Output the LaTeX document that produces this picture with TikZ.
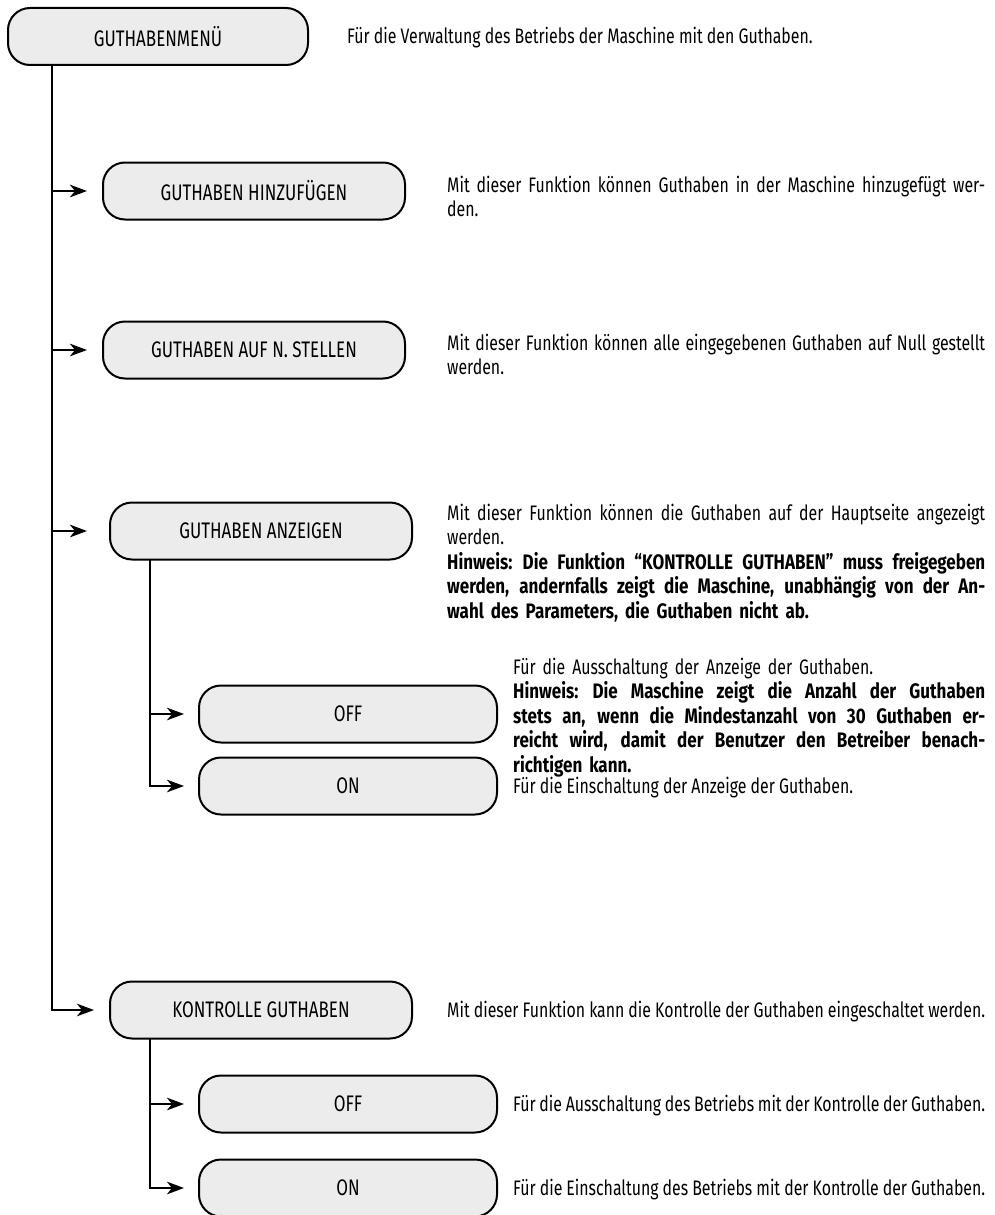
\documentclass[tikz,border=0pt]{standalone}
\usepackage{fontspec}
\setmainfont{Fira Sans}[FakeStretch=0.755,BoldFeatures={FakeStretch=0.81}]
\usetikzlibrary{arrows.meta}
\definecolor{boxgray}{HTML}{ECECEC}
\newcommand\fullline[2]{\makebox[#1][s]{\spaceskip=0.25em plus 1em minus 0.12em\xspaceskip=0.3em plus 1em minus 0.12em\relax #2}}
\begin{document}
\begin{tikzpicture}[x=1pt,y=-1pt,
  menubox/.style={draw=black, line width=2pt, fill=boxgray, rounded corners=22pt,
    minimum height=57pt, inner sep=0pt, font=\fontsize{22.5}{24}\selectfont},
  desc/.style={anchor=base west, inner sep=0pt, align=left, font=\fontsize{21}{24.5}\selectfont},
  conn/.style={line width=2.5pt},
  arr/.style={conn, -{Stealth[length=17pt,width=12.5pt,inset=5pt]}}
]
\useasboundingbox (0,0) rectangle (995,1215);

% boxes
\node[menubox, minimum width=300pt] (menu) at (158,36.5) {GUTHABENMENÜ};
\node[menubox, minimum width=302pt] (hinz) at (254,191) {GUTHABEN HINZUFÜGEN};
\node[menubox, minimum width=302pt] (null) at (254,350) {GUTHABEN AUF N. STELLEN};
\node[menubox, minimum width=302pt] (anz) at (261,531) {GUTHABEN ANZEIGEN};
\node[menubox, minimum width=298pt] (off1) at (348,714) {OFF};
\node[menubox, minimum width=298pt] (on1) at (348,786) {ON};
\node[menubox, minimum width=302pt] (kont) at (261,1010) {KONTROLLE GUTHABEN};
\node[menubox, minimum width=298pt] (off2) at (348,1104) {OFF};
\node[menubox, minimum width=298pt] (on2) at (348,1188) {ON};

% connectors
\coordinate (t0) at (52,65);
\draw[arr] (t0) |- ([xshift=-15pt]kont.west);
\draw[arr] (t0 |- hinz.west) -- ([xshift=-15pt]hinz.west);
\draw[arr] (t0 |- null.west) -- ([xshift=-15pt]null.west);
\draw[arr] (t0 |- anz.west) -- ([xshift=-22pt]anz.west);

\coordinate (s1) at (150,560);
\draw[arr] (s1) |- ([xshift=-14pt]on1.west);
\draw[arr] (s1 |- off1.west) -- ([xshift=-14pt]off1.west);

\coordinate (s2) at (150,1039);
\draw[arr] (s2) |- ([xshift=-14pt]on2.west);
\draw[arr] (s2 |- off2.west) -- ([xshift=-14pt]off2.west);

% descriptions
\node[desc] (d0) at (347,44) {Für die Verwaltung des Betriebs der Maschine mit den Guthaben.};

\node[desc, text width=538pt] (d1) at (447,192)
  {\fullline{538pt}{Mit dieser Funktion können Guthaben in der Maschine hinzugefügt wer-}\\den.};

\node[desc, text width=538pt] (d2) at (447,350)
  {\fullline{538pt}{Mit dieser Funktion können alle eingegebenen Guthaben auf Null gestellt}\\werden.};

\node[desc, text width=538pt] (d3) at (447,520)
  {\fullline{538pt}{Mit dieser Funktion können die Guthaben auf der Hauptseite angezeigt}\\
   werden.\\
   \fullline{538pt}{\bfseries Hinweis: Die Funktion “KONTROLLE GUTHABEN” muss freigegeben}\\
   \fullline{538pt}{\bfseries werden, andernfalls zeigt die Maschine, unabhängig von der An-}\\
   \textbf{wahl des Parameters, die Guthaben nicht ab.}};

\node[desc, text width=472pt] (d4) at (513,674)
  {Für die Ausschaltung der Anzeige der Guthaben.\\
   \fullline{472pt}{\bfseries Hinweis: Die Maschine zeigt die Anzahl der Guthaben}\\
   \fullline{472pt}{\bfseries stets an, wenn die Mindestanzahl von 30 Guthaben er-}\\
   \fullline{472pt}{\bfseries reicht wird, damit der Benutzer den Betreiber benach-}\\
   \textbf{richtigen kann.}};

\node[desc] (d5) at (513,793) {Für die Einschaltung der Anzeige der Guthaben.};

\node[desc] (d6) at (447,1017)
  {\fullline{538pt}{Mit dieser Funktion kann die Kontrolle der Guthaben eingeschaltet werden.}};

\node[desc] (d7) at (513,1111)
  {\fullline{472pt}{Für die Ausschaltung des Betriebs mit der Kontrolle der Guthaben.}};

\node[desc] (d8) at (513,1195)
  {\fullline{472pt}{Für die Einschaltung des Betriebs mit der Kontrolle der Guthaben.}};
\end{tikzpicture}
\end{document}
